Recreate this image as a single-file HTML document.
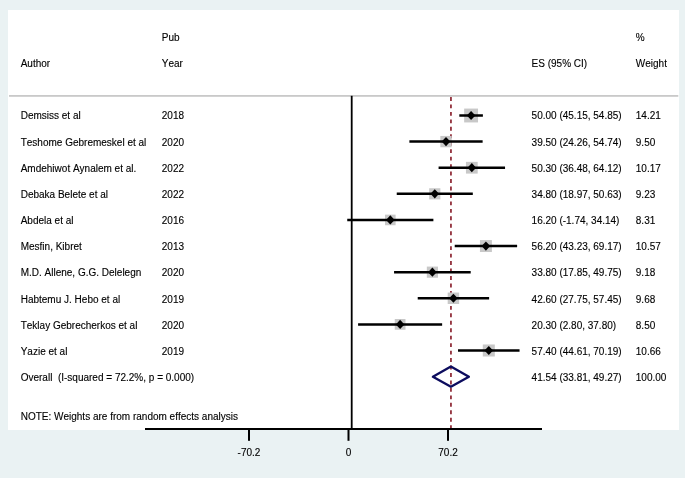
<!DOCTYPE html>
<html><head><meta charset="utf-8"><title>Forest plot</title>
<style>
html,body{margin:0;padding:0;background:#eaf2f3;}
body{width:685px;height:478px;overflow:hidden;}
svg{display:block;}
text{font-family:"Liberation Sans",sans-serif;font-size:10px;font-kerning:none;fill:#000;stroke:#000;stroke-width:0.12px;}
</style></head><body>
<svg width="685" height="478" viewBox="0 0 685 478">
<rect x="0" y="0" width="685" height="478" fill="#eaf2f3"/>
<rect x="8" y="10" width="671" height="420" fill="#ffffff"/>
<rect x="9" y="95" width="669.3" height="1.8" fill="#c9c9c9"/>

<rect x="350.8" y="95.8" width="1.8" height="333" fill="#000"/>
<line x1="450.95" y1="97" x2="450.95" y2="428" stroke="#8c2430" stroke-width="1.7" stroke-dasharray="3.9 3.56"/>
<rect x="464.16" y="108.56" width="13.87" height="13.87" fill="#c8c8c8"/>
<rect x="440.33" y="135.94" width="11.34" height="11.34" fill="#c8c8c8"/>
<rect x="465.95" y="161.85" width="11.74" height="11.74" fill="#c8c8c8"/>
<rect x="429.18" y="188.24" width="11.18" height="11.18" fill="#c8c8c8"/>
<rect x="385.01" y="214.64" width="10.61" height="10.61" fill="#c8c8c8"/>
<rect x="479.94" y="240.07" width="11.96" height="11.96" fill="#c8c8c8"/>
<rect x="426.81" y="266.59" width="11.15" height="11.15" fill="#c8c8c8"/>
<rect x="447.69" y="292.55" width="11.45" height="11.45" fill="#c8c8c8"/>
<rect x="394.75" y="319.02" width="10.73" height="10.73" fill="#c8c8c8"/>
<rect x="482.78" y="344.48" width="12.02" height="12.02" fill="#c8c8c8"/>
<line x1="459.31" y1="115.50" x2="482.89" y2="115.50" stroke="#000" stroke-width="2.5"/>
<polygon points="466.80,115.50 471.10,110.90 475.40,115.50 471.10,120.10" fill="#000"/>
<line x1="409.38" y1="141.61" x2="482.63" y2="141.61" stroke="#000" stroke-width="2.5"/>
<polygon points="441.70,141.61 446.00,137.01 450.31,141.61 446.00,146.21" fill="#000"/>
<line x1="438.59" y1="167.72" x2="505.05" y2="167.72" stroke="#000" stroke-width="2.5"/>
<polygon points="467.52,167.72 471.82,163.12 476.12,167.72 471.82,172.32" fill="#000"/>
<line x1="396.74" y1="193.83" x2="472.81" y2="193.83" stroke="#000" stroke-width="2.5"/>
<polygon points="430.47,193.83 434.77,189.23 439.07,193.83 434.77,198.43" fill="#000"/>
<line x1="347.24" y1="219.94" x2="433.39" y2="219.94" stroke="#000" stroke-width="2.5"/>
<polygon points="386.02,219.94 390.32,215.34 394.62,219.94 390.32,224.54" fill="#000"/>
<line x1="454.72" y1="246.05" x2="517.12" y2="246.05" stroke="#000" stroke-width="2.5"/>
<polygon points="481.62,246.05 485.92,241.45 490.22,246.05 485.92,250.65" fill="#000"/>
<line x1="394.06" y1="272.16" x2="470.70" y2="272.16" stroke="#000" stroke-width="2.5"/>
<polygon points="428.08,272.16 432.38,267.56 436.68,272.16 432.38,276.76" fill="#000"/>
<line x1="417.72" y1="298.27" x2="489.11" y2="298.27" stroke="#000" stroke-width="2.5"/>
<polygon points="449.11,298.27 453.41,293.67 457.71,298.27 453.41,302.87" fill="#000"/>
<line x1="358.09" y1="324.38" x2="442.14" y2="324.38" stroke="#000" stroke-width="2.5"/>
<polygon points="395.82,324.38 400.12,319.78 404.42,324.38 400.12,328.98" fill="#000"/>
<line x1="458.02" y1="350.49" x2="519.55" y2="350.49" stroke="#000" stroke-width="2.5"/>
<polygon points="484.49,350.49 488.79,345.89 493.09,350.49 488.79,355.09" fill="#000"/>
<polygon points="432.9,376.70 450.9,366.60 468.9,376.70 450.9,386.80" fill="none" stroke="#0c0c5e" stroke-width="2.35" stroke-linejoin="round"/>
<rect x="145" y="428" width="397" height="2" fill="#000"/>
<rect x="248.0" y="429" width="2" height="11.8" fill="#000"/>
<rect x="347.5" y="429" width="2" height="11.8" fill="#000"/>
<rect x="447.0" y="429" width="2" height="11.8" fill="#000"/>
<text x="249" y="456.2" text-anchor="middle">-70.2</text>
<text x="348.5" y="456.2" text-anchor="middle">0</text>
<text x="448" y="456.2" text-anchor="middle">70.2</text>
<text x="161.8" y="41.00" xml:space="preserve">Pub</text>
<text x="635.8" y="41.00" xml:space="preserve">%</text>
<text x="20.7" y="67.00" xml:space="preserve">Author</text>
<text x="161.8" y="67.00" xml:space="preserve">Year</text>
<text x="531.6" y="67.00" xml:space="preserve">ES (95% CI)</text>
<text x="635.8" y="67.00" xml:space="preserve">Weight</text>
<text x="20.7" y="119.00" xml:space="preserve">Demsiss et al</text>
<text x="161.8" y="119.00" xml:space="preserve">2018</text>
<text x="531.6" y="119.00" xml:space="preserve">50.00 (45.15, 54.85)</text>
<text x="635.8" y="119.00" xml:space="preserve">14.21</text>
<text x="20.7" y="146.00" xml:space="preserve">Teshome Gebremeskel et al</text>
<text x="161.8" y="146.00" xml:space="preserve">2020</text>
<text x="531.6" y="146.00" xml:space="preserve">39.50 (24.26, 54.74)</text>
<text x="635.8" y="146.00" xml:space="preserve">9.50</text>
<text x="20.7" y="172.00" xml:space="preserve">Amdehiwot Aynalem et al.</text>
<text x="161.8" y="172.00" xml:space="preserve">2022</text>
<text x="531.6" y="172.00" xml:space="preserve">50.30 (36.48, 64.12)</text>
<text x="635.8" y="172.00" xml:space="preserve">10.17</text>
<text x="20.7" y="198.00" xml:space="preserve">Debaka Belete et al</text>
<text x="161.8" y="198.00" xml:space="preserve">2022</text>
<text x="531.6" y="198.00" xml:space="preserve">34.80 (18.97, 50.63)</text>
<text x="635.8" y="198.00" xml:space="preserve">9.23</text>
<text x="20.7" y="224.00" xml:space="preserve">Abdela et al</text>
<text x="161.8" y="224.00" xml:space="preserve">2016</text>
<text x="531.6" y="224.00" xml:space="preserve">16.20 (-1.74, 34.14)</text>
<text x="635.8" y="224.00" xml:space="preserve">8.31</text>
<text x="20.7" y="250.00" xml:space="preserve">Mesfin, Kibret</text>
<text x="161.8" y="250.00" xml:space="preserve">2013</text>
<text x="531.6" y="250.00" xml:space="preserve">56.20 (43.23, 69.17)</text>
<text x="635.8" y="250.00" xml:space="preserve">10.57</text>
<text x="20.7" y="276.00" xml:space="preserve">M.D. Allene, G.G. Delelegn</text>
<text x="161.8" y="276.00" xml:space="preserve">2020</text>
<text x="531.6" y="276.00" xml:space="preserve">33.80 (17.85, 49.75)</text>
<text x="635.8" y="276.00" xml:space="preserve">9.18</text>
<text x="20.7" y="303.00" xml:space="preserve">Habtemu J. Hebo et al</text>
<text x="161.8" y="303.00" xml:space="preserve">2019</text>
<text x="531.6" y="303.00" xml:space="preserve">42.60 (27.75, 57.45)</text>
<text x="635.8" y="303.00" xml:space="preserve">9.68</text>
<text x="20.7" y="329.00" xml:space="preserve">Teklay Gebrecherkos et al</text>
<text x="161.8" y="329.00" xml:space="preserve">2020</text>
<text x="531.6" y="329.00" xml:space="preserve">20.30 (2.80, 37.80)</text>
<text x="635.8" y="329.00" xml:space="preserve">8.50</text>
<text x="20.7" y="355.00" xml:space="preserve">Yazie et al</text>
<text x="161.8" y="355.00" xml:space="preserve">2019</text>
<text x="531.6" y="355.00" xml:space="preserve">57.40 (44.61, 70.19)</text>
<text x="635.8" y="355.00" xml:space="preserve">10.66</text>
<text x="20.7" y="381.00" xml:space="preserve">Overall  (I-squared = 72.2%, p = 0.000)</text>
<text x="531.6" y="381.00" xml:space="preserve">41.54 (33.81, 49.27)</text>
<text x="635.8" y="381.00" xml:space="preserve">100.00</text>
<text x="20.7" y="420.00" xml:space="preserve">NOTE: Weights are from random effects analysis</text>
</svg></body></html>
